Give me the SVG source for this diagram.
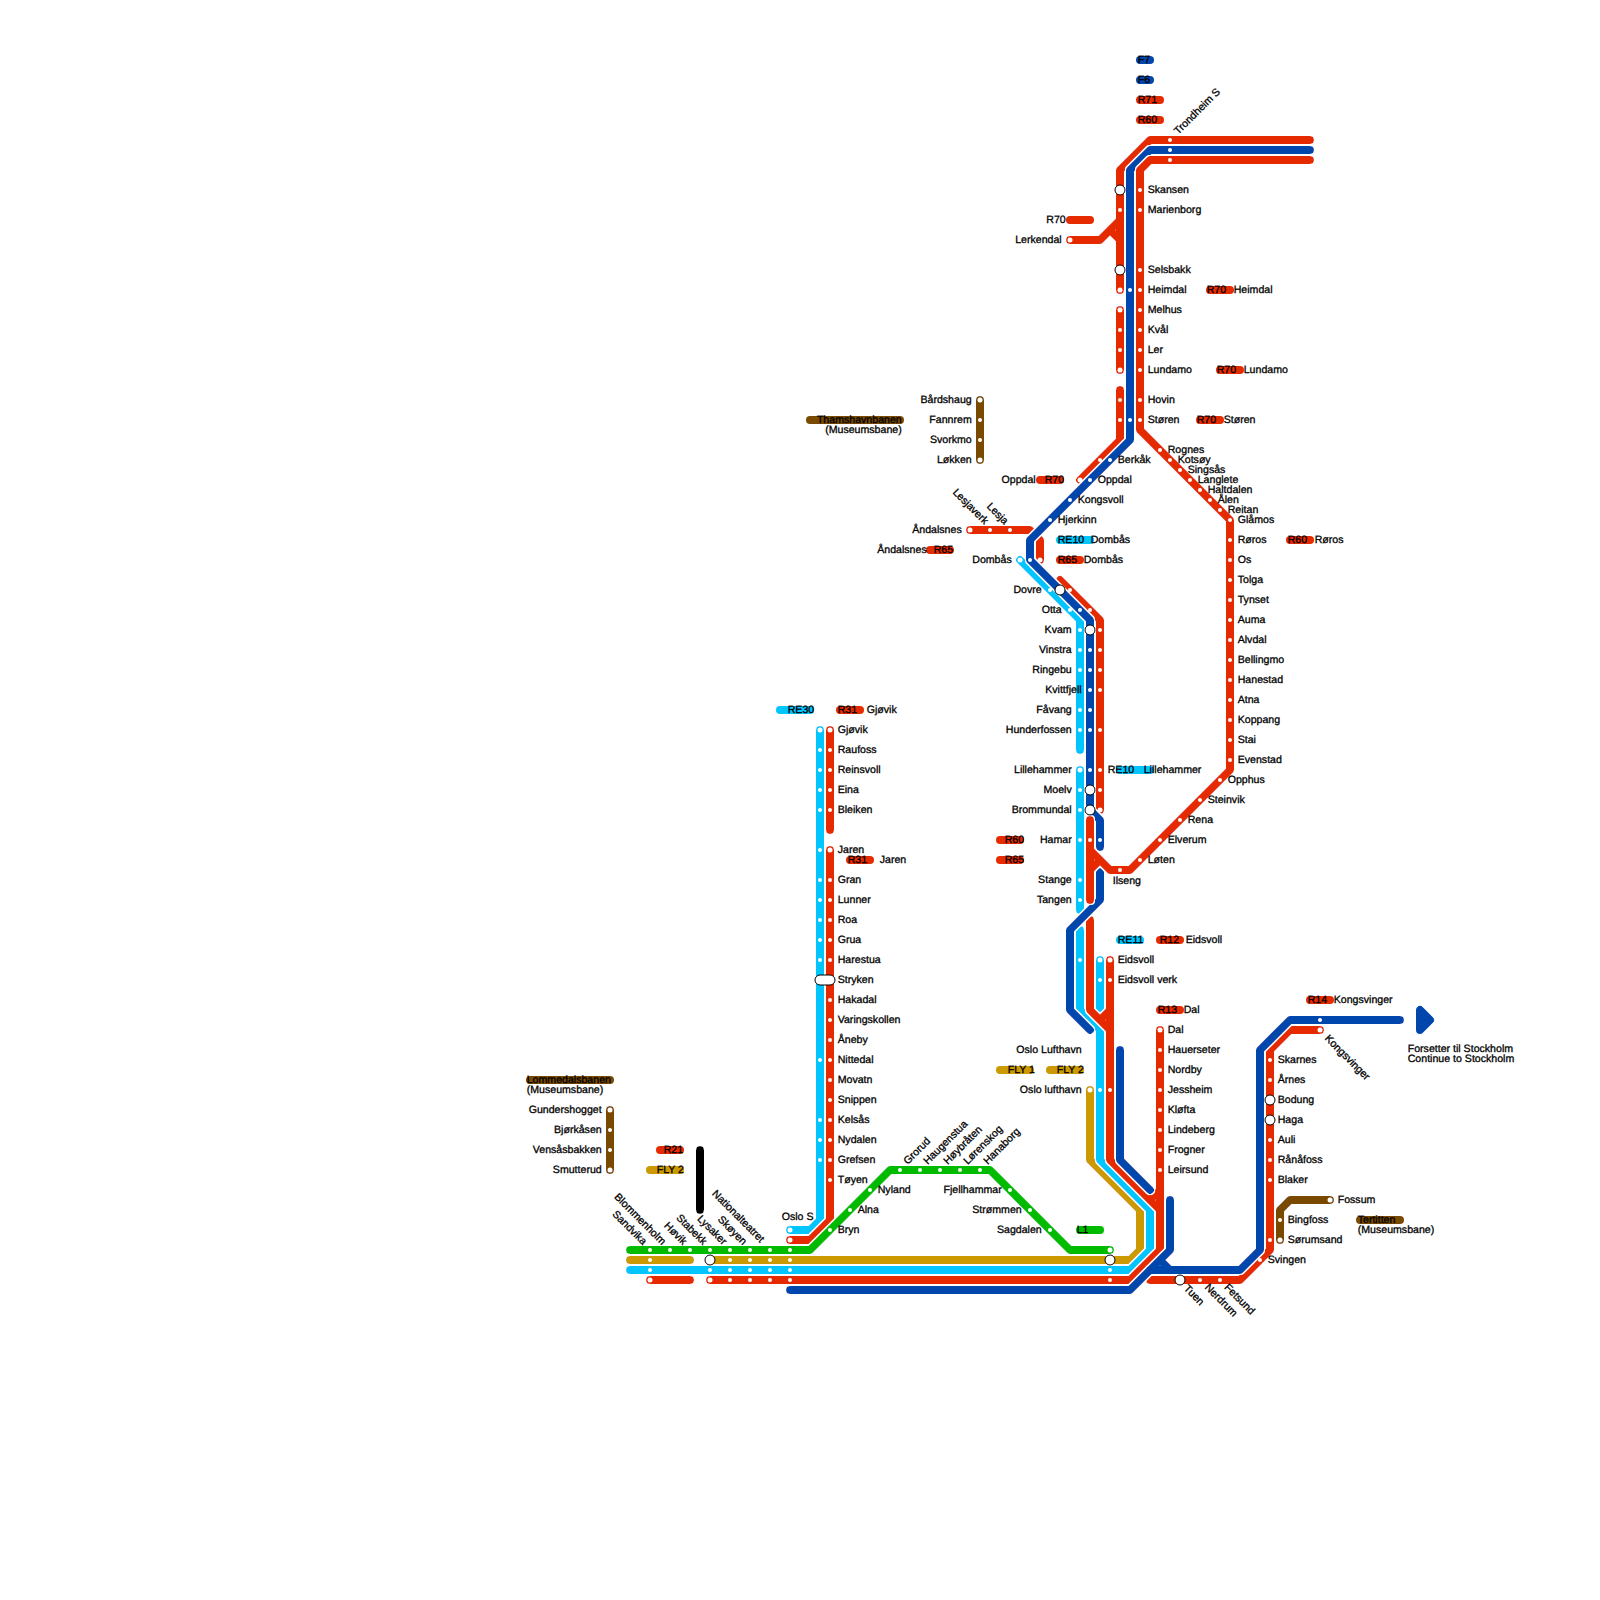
<svg xmlns="http://www.w3.org/2000/svg" width="1600" height="1600" viewBox="0 0 1600 1600">
<style>
text{font-family:"Liberation Sans",Arial,sans-serif;font-size:10.6px;fill:#000;stroke:#000;stroke-width:.3;translate:-.3px -1px;text-rendering:geometricPrecision}
.a{text-anchor:end}
.l{fill:none;stroke-width:8;stroke-linecap:round;stroke-linejoin:round;filter:url(#h)}
.p{fill:none;stroke-width:8;stroke-linecap:round}
.R{stroke:#e62b00}.B{stroke:#0046ad}.C{stroke:#00c5ff}.G{stroke:#00bb00}.Y{stroke:#cc9a00}.N{stroke:#7a4a00}.K{stroke:#000}
.d{r:2px;fill:#fff}.e{r:2.5px;fill:#fff}.i{r:5px;fill:#fff;stroke:#000;stroke-width:1}
</style>
<defs><filter id="h" filterUnits="userSpaceOnUse" x="0" y="0" width="1600" height="1600"><feMorphology in="SourceAlpha" operator="dilate" radius="0.8" result="m"/><feFlood flood-color="#fff"/><feComposite in2="m" operator="in"/><feMerge><feMergeNode/><feMergeNode in="SourceGraphic"/></feMerge></filter></defs>
<rect width="1600" height="1600" fill="#fff"/>
<g id="connectors">
<path class="l N" d="M980 400V460"/>
<path class="l N" d="M610 1110V1170"/>
<path class="l N" d="M1330 1200H1290L1280 1210V1240"/>
<path class="l K" d="M700 1150V1210"/>
<path class="l Y" d="M1090 1090V1160L1140 1210V1250L1130 1260H710"/>
<path class="l Y" d="M630 1260H690"/>
<path class="l C" d="M1020 560L1080 620V750"/>
<path class="l C" d="M1080 770V910"/>
<path class="l C" d="M1080 930V1010L1100 1030V1160L1150 1210V1250L1130 1270H630M1100 960V1020"/>
<path class="l C" d="M790 1230H810L820 1220V730"/>
<path class="l R" d="M970 530H1030L1040 540V560"/>
<path class="l R" d="M1070 240H1100L1120 220M1110 230L1120 240M1120 290V170L1150 140H1310"/>
<path class="l R" d="M1120 310V370"/>
<path class="l R" d="M1120 390V440L1080 480"/>
<path class="l R" d="M1060 580L1100 620V810"/>
<path class="l R" d="M1090 920V1010L1110 1030M1100 1020L1110 1010M1110 960V1160L1160 1210V1250L1130 1280H710M1160 1030V1250M1150 1200L1160 1190"/>
<path class="l R" d="M650 1280H690"/>
<path class="l R" d="M1150 1280H1240L1270 1250V1050L1290 1030H1320"/>
<path class="l R" d="M830 730V830"/>
<path class="l R" d="M790 1240H810L830 1220V850"/>
<path class="l G" d="M630 1250H810L890 1170H990L1070 1250H1110"/>
<path class="l B" d="M1310 150H1150L1130 170V440L1030 540V560L1090 620V810L1100 820V847"/>
<path class="l B" d="M1100 872V900L1070 930V1010L1090 1030"/>
<path class="l B" d="M1120 1050V1160L1150 1190"/>
<path class="l R" d="M1310 160H1150L1140 170V430L1230 520V770L1130 870H1110L1090 850M1090 820V900M1090 870L1100 860"/>
<path class="l B" d="M790 1290H1130L1170 1250V1200M1150 1270H1240L1260 1250V1050L1290 1020H1400M1160 1260L1170 1270"/>
<polygon points="1420,1010 1420,1030 1430,1020" fill="#0046ad" stroke="#0046ad" stroke-width="8" stroke-linejoin="round"/>
</g>
<g id="legend-f7"><path class="p B" d="M1140 60H1150"/><text x="1138" y="63.5">F7</text></g>
<g id="legend-f6"><path class="p B" d="M1140 80H1150"/><text x="1138" y="83.5">F6</text></g>
<g id="legend-r71"><path class="p R" d="M1140 100H1160"/><text x="1138" y="103.5">R71</text></g>
<g id="legend-r60"><path class="p R" d="M1140 120H1160"/><text x="1138" y="123.5">R60</text></g>
<g id="legend-r70-a"><path class="p R" d="M1070 220H1090"/><text class="a" x="1066" y="223.5">R70</text></g>
<g id="legend-r70-heimdal"><path class="p R" d="M1210 290H1230"/><text x="1207" y="293.5">R70</text><text x="1234" y="293.5">Heimdal</text></g>
<g id="legend-r70-lundamo"><path class="p R" d="M1220 370H1240"/><text x="1217" y="373.5">R70</text><text x="1244" y="373.5">Lundamo</text></g>
<g id="legend-r70-storen"><path class="p R" d="M1200 420H1220"/><text x="1197" y="423.5">R70</text><text x="1224" y="423.5">Støren</text></g>
<g id="legend-r70-oppdal"><path class="p R" d="M1040 480H1060"/><text class="a" x="1036" y="483.5">Oppdal</text><text x="1045" y="483.5">R70</text></g>
<g id="legend-re10-dombas"><path class="p C" d="M1060 540H1090"/><text x="1058" y="543.5">RE10</text><text x="1091" y="543.5">Dombås</text></g>
<g id="legend-r65-dombas"><path class="p R" d="M1060 560H1080"/><text x="1058" y="563.5">R65</text><text x="1084" y="563.5">Dombås</text></g>
<g id="legend-r65-andalsnes"><path class="p R" d="M930 550H950"/><text class="a" x="927" y="553.5">Åndalsnes</text><text x="934" y="553.5">R65</text></g>
<g id="legend-r60-roros"><path class="p R" d="M1290 540H1310"/><text x="1288" y="543.5">R60</text><text x="1315" y="543.5">Røros</text></g>
<g id="legend-re10-lillehammer"><path class="p C" d="M1120 770H1150"/><text x="1108" y="773.5">RE10</text><text x="1144" y="773.5">Lillehammer</text></g>
<g id="legend-r60-b"><path class="p R" d="M1000 840H1020"/><text x="1005" y="843.5">R60</text></g>
<g id="legend-r65-b"><path class="p R" d="M1000 860H1020"/><text x="1005" y="863.5">R65</text></g>
<g id="legend-re11"><path class="p C" d="M1120 940H1140"/><text x="1118" y="943.5">RE11</text></g>
<g id="legend-r12"><path class="p R" d="M1160 940H1180"/><text x="1160" y="943.5">R12</text><text x="1186" y="943.5">Eidsvoll</text></g>
<g id="legend-r13"><path class="p R" d="M1160 1010H1180"/><text x="1158" y="1013.5">R13</text><text x="1184" y="1013.5">Dal</text></g>
<g id="legend-r14"><path class="p R" d="M1310 1000H1330"/><text x="1308" y="1003.5">R14</text><text x="1334" y="1003.5">Kongsvinger</text></g>
<g id="legend-fly1"><path class="p Y" d="M1000 1070H1030"/><text x="1008" y="1073.5">FLY 1</text></g>
<g id="legend-fly2-a"><path class="p Y" d="M1050 1070H1080"/><text x="1057" y="1073.5">FLY 2</text></g>
<g id="legend-l1"><path class="p G" d="M1080 1230H1100"/><text x="1077" y="1233.5">L1</text></g>
<g id="legend-r21"><path class="p R" d="M660 1150H680"/><text x="664" y="1153.5">R21</text></g>
<g id="legend-fly2-b"><path class="p Y" d="M650 1170H680"/><text x="657" y="1173.5">FLY 2</text></g>
<g id="legend-re30"><path class="p C" d="M780 710H810"/><text x="788" y="713.5">RE30</text></g>
<g id="legend-r31-gjovik"><path class="p R" d="M840 710H860"/><text x="838" y="713.5">R31</text><text x="867" y="713.5">Gjøvik</text></g>
<g id="legend-r31-jaren"><path class="p R" d="M850 860H870"/><text x="848" y="863.5">R31</text><text x="880" y="863.5">Jaren</text></g>
<g id="legend-thamshavn"><path class="p N" d="M810 420H900"/><text class="a" x="902" y="423.5">Thamshavnbanen</text><text class="a" x="902" y="433.5">(Museumsbane)</text></g>
<g id="legend-lommedal"><path class="p N" d="M530 1080H610"/><text x="527" y="1083.5">Lommedalsbanen</text><text x="527" y="1093.5">(Museumsbane)</text></g>
<g id="legend-tertitten"><path class="p N" d="M1360 1220H1400"/><text x="1358" y="1223.5">Tertitten</text><text x="1358" y="1233.5">(Museumsbane)</text></g>
<g id="legend-stockholm"><text x="1408" y="1053">Forsetter til Stockholm</text><text x="1408" y="1063">Continue to Stockholm</text></g>
<g id="n-trondheim"><circle class="d" cx="1170" cy="140"/><circle class="d" cx="1170" cy="150"/><circle class="d" cx="1170" cy="160"/><text x="1178.5" y="136" transform="rotate(-45 1178.5 136)">Trondheim S</text></g>
<g id="n-skansen"><circle class="i" cx="1120" cy="190"/><circle class="d" cx="1140" cy="190"/><text x="1148" y="193.5">Skansen</text></g>
<g id="n-marienborg"><circle class="d" cx="1120" cy="210"/><circle class="d" cx="1140" cy="210"/><text x="1148" y="213.5">Marienborg</text></g>
<g id="n-lerkendal"><circle class="e" cx="1070" cy="240"/><text class="a" x="1062" y="243.5">Lerkendal</text></g>
<g id="n-selsbakk"><circle class="i" cx="1120" cy="270"/><circle class="d" cx="1140" cy="270"/><text x="1148" y="273.5">Selsbakk</text></g>
<g id="n-heimdal"><circle class="e" cx="1120" cy="290"/><circle class="d" cx="1130" cy="290"/><circle class="d" cx="1140" cy="290"/><text x="1148" y="293.5">Heimdal</text></g>
<g id="n-melhus"><circle class="e" cx="1120" cy="310"/><circle class="d" cx="1140" cy="310"/><text x="1148" y="313.5">Melhus</text></g>
<g id="n-kval"><circle class="d" cx="1120" cy="330"/><circle class="d" cx="1140" cy="330"/><text x="1148" y="333.5">Kvål</text></g>
<g id="n-ler"><circle class="d" cx="1120" cy="350"/><circle class="d" cx="1140" cy="350"/><text x="1148" y="353.5">Ler</text></g>
<g id="n-lundamo"><circle class="e" cx="1120" cy="370"/><circle class="d" cx="1140" cy="370"/><text x="1148" y="373.5">Lundamo</text></g>
<g id="n-hovin"><circle class="d" cx="1120" cy="400"/><circle class="d" cx="1140" cy="400"/><text x="1148" y="403.5">Hovin</text></g>
<g id="n-storen"><circle class="d" cx="1120" cy="420"/><circle class="d" cx="1130" cy="420"/><circle class="d" cx="1140" cy="420"/><text x="1148" y="423.5">Støren</text></g>
<g id="n-rognes"><circle class="d" cx="1160" cy="450"/><text x="1168" y="453.5">Rognes</text></g>
<g id="n-kotsoy"><circle class="d" cx="1170" cy="460"/><text x="1178" y="463.5">Kotsøy</text></g>
<g id="n-singsas"><circle class="d" cx="1180" cy="470"/><text x="1188" y="473.5">Singsås</text></g>
<g id="n-langlete"><circle class="d" cx="1190" cy="480"/><text x="1198" y="483.5">Langlete</text></g>
<g id="n-haltdalen"><circle class="d" cx="1200" cy="490"/><text x="1208" y="493.5">Haltdalen</text></g>
<g id="n-alen"><circle class="d" cx="1210" cy="500"/><text x="1218" y="503.5">Ålen</text></g>
<g id="n-reitan"><circle class="d" cx="1220" cy="510"/><text x="1228" y="513.5">Reitan</text></g>
<g id="n-glamos"><circle class="d" cx="1230" cy="520"/><text x="1238" y="523.5">Glåmos</text></g>
<g id="n-roros"><circle class="d" cx="1230" cy="540"/><text x="1238" y="543.5">Røros</text></g>
<g id="n-os"><circle class="d" cx="1230" cy="560"/><text x="1238" y="563.5">Os</text></g>
<g id="n-tolga"><circle class="d" cx="1230" cy="580"/><text x="1238" y="583.5">Tolga</text></g>
<g id="n-tynset"><circle class="d" cx="1230" cy="600"/><text x="1238" y="603.5">Tynset</text></g>
<g id="n-auma"><circle class="d" cx="1230" cy="620"/><text x="1238" y="623.5">Auma</text></g>
<g id="n-alvdal"><circle class="d" cx="1230" cy="640"/><text x="1238" y="643.5">Alvdal</text></g>
<g id="n-bellingmo"><circle class="d" cx="1230" cy="660"/><text x="1238" y="663.5">Bellingmo</text></g>
<g id="n-hanestad"><circle class="d" cx="1230" cy="680"/><text x="1238" y="683.5">Hanestad</text></g>
<g id="n-atna"><circle class="d" cx="1230" cy="700"/><text x="1238" y="703.5">Atna</text></g>
<g id="n-koppang"><circle class="d" cx="1230" cy="720"/><text x="1238" y="723.5">Koppang</text></g>
<g id="n-stai"><circle class="d" cx="1230" cy="740"/><text x="1238" y="743.5">Stai</text></g>
<g id="n-evenstad"><circle class="d" cx="1230" cy="760"/><text x="1238" y="763.5">Evenstad</text></g>
<g id="n-opphus"><circle class="d" cx="1220" cy="780"/><text x="1228" y="783.5">Opphus</text></g>
<g id="n-steinvik"><circle class="d" cx="1200" cy="800"/><text x="1208" y="803.5">Steinvik</text></g>
<g id="n-rena"><circle class="d" cx="1180" cy="820"/><text x="1188" y="823.5">Rena</text></g>
<g id="n-elverum"><circle class="d" cx="1160" cy="840"/><text x="1168" y="843.5">Elverum</text></g>
<g id="n-loten"><circle class="d" cx="1140" cy="860"/><text x="1148" y="863.5">Løten</text></g>
<g id="n-ilseng"><circle class="d" cx="1120" cy="870"/><text x="1113" y="885">Ilseng</text></g>
<g id="n-berkak"><circle class="d" cx="1100" cy="460"/><circle class="d" cx="1110" cy="460"/><text x="1118" y="463.5">Berkåk</text></g>
<g id="n-oppdal"><circle class="e" cx="1080" cy="480"/><circle class="d" cx="1090" cy="480"/><text x="1098" y="483.5">Oppdal</text></g>
<g id="n-kongsvoll"><circle class="d" cx="1070" cy="500"/><text x="1078" y="503.5">Kongsvoll</text></g>
<g id="n-hjerkinn"><circle class="d" cx="1050" cy="520"/><text x="1058" y="523.5">Hjerkinn</text></g>
<g id="n-andalsnes"><circle class="e" cx="970" cy="530"/><text class="a" x="962" y="533.5">Åndalsnes</text></g>
<g id="n-lesjaverk"><circle class="d" cx="990" cy="530"/><text class="a" x="984.5" y="526" transform="rotate(45 984.5 526)">Lesjaverk</text></g>
<g id="n-lesja"><circle class="d" cx="1010" cy="530"/><text class="a" x="1004.5" y="526" transform="rotate(45 1004.5 526)">Lesja</text></g>
<g id="n-dombas"><circle class="e" cx="1020" cy="560"/><circle class="d" cx="1030" cy="560"/><circle class="e" cx="1040" cy="560"/><text class="a" x="1012" y="563.5">Dombås</text></g>
<g id="n-dovre"><circle class="d" cx="1050" cy="590"/><circle class="i" cx="1060" cy="590"/><circle class="d" cx="1070" cy="590"/><text class="a" x="1042" y="593.5">Dovre</text></g>
<g id="n-otta"><circle class="d" cx="1070" cy="610"/><circle class="d" cx="1080" cy="610"/><circle class="d" cx="1090" cy="610"/><text class="a" x="1062" y="613.5">Otta</text></g>
<g id="n-kvam"><circle class="d" cx="1080" cy="630"/><circle class="i" cx="1090" cy="630"/><circle class="d" cx="1100" cy="630"/><text class="a" x="1072" y="633.5">Kvam</text></g>
<g id="n-vinstra"><circle class="d" cx="1080" cy="650"/><circle class="d" cx="1090" cy="650"/><circle class="d" cx="1100" cy="650"/><text class="a" x="1072" y="653.5">Vinstra</text></g>
<g id="n-ringebu"><circle class="d" cx="1080" cy="670"/><circle class="d" cx="1090" cy="670"/><circle class="d" cx="1100" cy="670"/><text class="a" x="1072" y="673.5">Ringebu</text></g>
<g id="n-kvittfjell"><circle class="d" cx="1090" cy="690"/><circle class="d" cx="1100" cy="690"/><text class="a" x="1082" y="693.5">Kvittfjell</text></g>
<g id="n-favang"><circle class="d" cx="1080" cy="710"/><circle class="d" cx="1090" cy="710"/><text class="a" x="1072" y="713.5">Fåvang</text></g>
<g id="n-hunderfossen"><circle class="d" cx="1080" cy="730"/><circle class="d" cx="1090" cy="730"/><circle class="d" cx="1100" cy="730"/><text class="a" x="1072" y="733.5">Hunderfossen</text></g>
<g id="n-lillehammer"><circle class="e" cx="1080" cy="770"/><circle class="d" cx="1090" cy="770"/><circle class="d" cx="1100" cy="770"/><text class="a" x="1072" y="773.5">Lillehammer</text></g>
<g id="n-moelv"><circle class="d" cx="1080" cy="790"/><circle class="i" cx="1090" cy="790"/><circle class="d" cx="1100" cy="790"/><text class="a" x="1072" y="793.5">Moelv</text></g>
<g id="n-brommundal"><circle class="d" cx="1080" cy="810"/><circle class="i" cx="1090" cy="810"/><circle class="e" cx="1100" cy="810"/><text class="a" x="1072" y="813.5">Brommundal</text></g>
<g id="n-hamar"><circle class="d" cx="1080" cy="840"/><circle class="d" cx="1090" cy="840"/><circle class="d" cx="1100" cy="840"/><text class="a" x="1072" y="843.5">Hamar</text></g>
<g id="n-stange"><circle class="d" cx="1080" cy="880"/><text class="a" x="1072" y="883.5">Stange</text></g>
<g id="n-tangen"><circle class="d" cx="1080" cy="900"/><text class="a" x="1072" y="903.5">Tangen</text></g>
<g id="n-eidsvoll"><circle class="d" cx="1080" cy="960"/><circle class="e" cx="1100" cy="960"/><circle class="e" cx="1110" cy="960"/><text x="1118" y="963.5">Eidsvoll</text></g>
<g id="n-eidsvoll-verk"><circle class="d" cx="1100" cy="980"/><circle class="d" cx="1110" cy="980"/><text x="1118" y="983.5">Eidsvoll verk</text></g>
<g id="n-oslo-lufthavn-label"><text class="a" x="1082" y="1053.5">Oslo Lufthavn</text></g>
<g id="n-oslo-lufthavn"><circle class="e" cx="1090" cy="1090"/><circle class="d" cx="1100" cy="1090"/><circle class="d" cx="1110" cy="1090"/><text class="a" x="1082" y="1093.5">Oslo lufthavn</text></g>
<g id="n-dal"><circle class="e" cx="1160" cy="1030"/><text x="1168" y="1033.5">Dal</text></g>
<g id="n-hauerseter"><circle class="d" cx="1160" cy="1050"/><text x="1168" y="1053.5">Hauerseter</text></g>
<g id="n-nordby"><circle class="d" cx="1160" cy="1070"/><text x="1168" y="1073.5">Nordby</text></g>
<g id="n-jessheim"><circle class="d" cx="1160" cy="1090"/><text x="1168" y="1093.5">Jessheim</text></g>
<g id="n-klofta"><circle class="d" cx="1160" cy="1110"/><text x="1168" y="1113.5">Kløfta</text></g>
<g id="n-lindeberg"><circle class="d" cx="1160" cy="1130"/><text x="1168" y="1133.5">Lindeberg</text></g>
<g id="n-frogner"><circle class="d" cx="1160" cy="1150"/><text x="1168" y="1153.5">Frogner</text></g>
<g id="n-leirsund"><circle class="d" cx="1160" cy="1170"/><text x="1168" y="1173.5">Leirsund</text></g>
<g id="n-x1110"><circle class="e" cx="1110" cy="1250"/><circle class="i" cx="1110" cy="1260"/><circle class="d" cx="1110" cy="1270"/><circle class="d" cx="1110" cy="1280"/></g>
<g id="n-tuen"><circle class="i" cx="1180" cy="1280"/><text x="1183.5" y="1290" transform="rotate(45 1183.5 1290)">Tuen</text></g>
<g id="n-nerdrum"><circle class="d" cx="1200" cy="1280"/><text x="1204.5" y="1289" transform="rotate(45 1204.5 1289)">Nerdrum</text></g>
<g id="n-fetsund"><circle class="d" cx="1220" cy="1280"/><text x="1224" y="1289" transform="rotate(45 1224 1289)">Fetsund</text></g>
<g id="n-svingen"><circle class="d" cx="1260" cy="1260"/><text x="1268" y="1263.5">Svingen</text></g>
<g id="n-sorumsand"><circle class="d" cx="1270" cy="1240"/><circle class="e" cx="1280" cy="1240"/><text x="1288" y="1243.5">Sørumsand</text></g>
<g id="n-bingfoss"><circle class="d" cx="1280" cy="1220"/><text x="1288" y="1223.5">Bingfoss</text></g>
<g id="n-fossum"><circle class="e" cx="1330" cy="1200"/><text x="1338" y="1203.5">Fossum</text></g>
<g id="n-blaker"><circle class="d" cx="1270" cy="1180"/><text x="1278" y="1183.5">Blaker</text></g>
<g id="n-ranafoss"><circle class="d" cx="1270" cy="1160"/><text x="1278" y="1163.5">Rånåfoss</text></g>
<g id="n-auli"><circle class="d" cx="1270" cy="1140"/><text x="1278" y="1143.5">Auli</text></g>
<g id="n-haga"><circle class="i" cx="1270" cy="1120"/><text x="1278" y="1123.5">Haga</text></g>
<g id="n-bodung"><circle class="i" cx="1270" cy="1100"/><text x="1278" y="1103.5">Bodung</text></g>
<g id="n-arnes"><circle class="d" cx="1270" cy="1080"/><text x="1278" y="1083.5">Årnes</text></g>
<g id="n-skarnes"><circle class="d" cx="1270" cy="1060"/><text x="1278" y="1063.5">Skarnes</text></g>
<g id="n-kongsvinger"><circle class="d" cx="1320" cy="1020"/><circle class="e" cx="1320" cy="1030"/><text x="1324.5" y="1040" transform="rotate(45 1324.5 1040)">Kongsvinger</text></g>
<g id="n-bardshaug"><circle class="e" cx="980" cy="400"/><text class="a" x="972" y="403.5">Bårdshaug</text></g>
<g id="n-fannrem"><circle class="d" cx="980" cy="420"/><text class="a" x="972" y="423.5">Fannrem</text></g>
<g id="n-svorkmo"><circle class="d" cx="980" cy="440"/><text class="a" x="972" y="443.5">Svorkmo</text></g>
<g id="n-lokken"><circle class="e" cx="980" cy="460"/><text class="a" x="972" y="463.5">Løkken</text></g>
<g id="n-gundershogget"><circle class="e" cx="610" cy="1110"/><text class="a" x="602" y="1113.5">Gundershogget</text></g>
<g id="n-bjorkasen"><circle class="d" cx="610" cy="1130"/><text class="a" x="602" y="1133.5">Bjørkåsen</text></g>
<g id="n-vensasbakken"><circle class="d" cx="610" cy="1150"/><text class="a" x="602" y="1153.5">Vensåsbakken</text></g>
<g id="n-smutterud"><circle class="e" cx="610" cy="1170"/><text class="a" x="602" y="1173.5">Smutterud</text></g>
<g id="n-gjovik"><circle class="e" cx="820" cy="730"/><circle class="e" cx="830" cy="730"/><text x="838" y="733.5">Gjøvik</text></g>
<g id="n-raufoss"><circle class="d" cx="820" cy="750"/><circle class="d" cx="830" cy="750"/><text x="838" y="753.5">Raufoss</text></g>
<g id="n-reinsvoll"><circle class="d" cx="820" cy="770"/><circle class="d" cx="830" cy="770"/><text x="838" y="773.5">Reinsvoll</text></g>
<g id="n-eina"><circle class="d" cx="820" cy="790"/><circle class="d" cx="830" cy="790"/><text x="838" y="793.5">Eina</text></g>
<g id="n-bleiken"><circle class="d" cx="820" cy="810"/><circle class="d" cx="830" cy="810"/><text x="838" y="813.5">Bleiken</text></g>
<g id="n-jaren"><circle class="d" cx="820" cy="850"/><circle class="e" cx="830" cy="850"/><text x="838" y="853.5">Jaren</text></g>
<g id="n-gran"><circle class="d" cx="820" cy="880"/><circle class="d" cx="830" cy="880"/><text x="838" y="883.5">Gran</text></g>
<g id="n-lunner"><circle class="d" cx="820" cy="900"/><circle class="d" cx="830" cy="900"/><text x="838" y="903.5">Lunner</text></g>
<g id="n-roa"><circle class="d" cx="820" cy="920"/><circle class="d" cx="830" cy="920"/><text x="838" y="923.5">Roa</text></g>
<g id="n-grua"><circle class="d" cx="820" cy="940"/><circle class="d" cx="830" cy="940"/><text x="838" y="943.5">Grua</text></g>
<g id="n-harestua"><circle class="d" cx="820" cy="960"/><circle class="d" cx="830" cy="960"/><text x="838" y="963.5">Harestua</text></g>
<g id="n-stryken"><rect x="815" y="975" width="20" height="10" rx="5" fill="#fff" stroke="#000"/><text x="838" y="983.5">Stryken</text></g>
<g id="n-hakadal"><circle class="d" cx="830" cy="1000"/><text x="838" y="1003.5">Hakadal</text></g>
<g id="n-varingskollen"><circle class="d" cx="830" cy="1020"/><text x="838" y="1023.5">Varingskollen</text></g>
<g id="n-aneby"><circle class="d" cx="830" cy="1040"/><text x="838" y="1043.5">Åneby</text></g>
<g id="n-nittedal"><circle class="d" cx="820" cy="1060"/><circle class="d" cx="830" cy="1060"/><text x="838" y="1063.5">Nittedal</text></g>
<g id="n-movatn"><circle class="d" cx="830" cy="1080"/><text x="838" y="1083.5">Movatn</text></g>
<g id="n-snippen"><circle class="d" cx="830" cy="1100"/><text x="838" y="1103.5">Snippen</text></g>
<g id="n-kelsas"><circle class="d" cx="820" cy="1120"/><circle class="d" cx="830" cy="1120"/><text x="838" y="1123.5">Kelsås</text></g>
<g id="n-nydalen"><circle class="d" cx="820" cy="1140"/><circle class="d" cx="830" cy="1140"/><text x="838" y="1143.5">Nydalen</text></g>
<g id="n-grefsen"><circle class="d" cx="820" cy="1160"/><circle class="d" cx="830" cy="1160"/><text x="838" y="1163.5">Grefsen</text></g>
<g id="n-toyen"><circle class="d" cx="830" cy="1180"/><text x="838" y="1183.5">Tøyen</text></g>
<g id="n-bryn"><circle class="d" cx="830" cy="1230"/><text x="838" y="1233.5">Bryn</text></g>
<g id="n-alna"><circle class="d" cx="850" cy="1210"/><text x="858" y="1213.5">Alna</text></g>
<g id="n-nyland"><circle class="d" cx="870" cy="1190"/><text x="878" y="1193.5">Nyland</text></g>
<g id="n-grorud"><circle class="d" cx="900" cy="1170"/><text x="908" y="1166" transform="rotate(-45 908 1166)">Grorud</text></g>
<g id="n-haugenstua"><circle class="d" cx="920" cy="1170"/><text x="928" y="1166" transform="rotate(-45 928 1166)">Haugenstua</text></g>
<g id="n-hoybraten"><circle class="d" cx="940" cy="1170"/><text x="948" y="1166" transform="rotate(-45 948 1166)">Høybråten</text></g>
<g id="n-lorenskog"><circle class="d" cx="960" cy="1170"/><text x="968" y="1166" transform="rotate(-45 968 1166)">Lørenskog</text></g>
<g id="n-hanaborg"><circle class="d" cx="980" cy="1170"/><text x="988" y="1166" transform="rotate(-45 988 1166)">Hanaborg</text></g>
<g id="n-fjellhammar"><circle class="d" cx="1010" cy="1190"/><text class="a" x="1002" y="1193.5">Fjellhammar</text></g>
<g id="n-strommen"><circle class="d" cx="1030" cy="1210"/><text class="a" x="1022" y="1213.5">Strømmen</text></g>
<g id="n-sagdalen"><circle class="d" cx="1050" cy="1230"/><text class="a" x="1042" y="1233.5">Sagdalen</text></g>
<g id="n-oslo-s"><circle class="e" cx="790" cy="1230"/><circle class="e" cx="790" cy="1240"/><circle class="d" cx="790" cy="1250"/><circle class="d" cx="790" cy="1260"/><circle class="d" cx="790" cy="1270"/><circle class="d" cx="790" cy="1280"/><text x="782" y="1221">Oslo S</text></g>
<g id="n-nationalteatret"><circle class="d" cx="770" cy="1250"/><circle class="d" cx="770" cy="1260"/><circle class="d" cx="770" cy="1270"/><circle class="d" cx="770" cy="1280"/><text class="a" x="760.5" y="1244" transform="rotate(45 760.5 1244)">Nationalteatret</text></g>
<g id="n-skoyen"><circle class="d" cx="750" cy="1250"/><circle class="d" cx="750" cy="1260"/><circle class="d" cx="750" cy="1270"/><circle class="d" cx="750" cy="1280"/><text class="a" x="743" y="1246.5" transform="rotate(45 743 1246.5)">Skøyen</text></g>
<g id="n-lysaker"><circle class="d" cx="730" cy="1250"/><circle class="d" cx="730" cy="1260"/><circle class="d" cx="730" cy="1270"/><circle class="d" cx="730" cy="1280"/><text class="a" x="723" y="1246.5" transform="rotate(45 723 1246.5)">Lysaker</text></g>
<g id="n-stabekk"><circle class="d" cx="710" cy="1250"/><circle class="i" cx="710" cy="1260"/><circle class="d" cx="710" cy="1270"/><circle class="e" cx="710" cy="1280"/><text class="a" x="703" y="1246.5" transform="rotate(45 703 1246.5)">Stabekk</text></g>
<g id="n-hovik"><circle class="d" cx="690" cy="1250"/><text class="a" x="683" y="1246.5" transform="rotate(45 683 1246.5)">Høvik</text></g>
<g id="n-blommenholm"><circle class="d" cx="670" cy="1250"/><text class="a" x="662" y="1246.5" transform="rotate(45 662 1246.5)">Blommenholm</text></g>
<g id="n-sandvika"><circle class="d" cx="650" cy="1250"/><circle class="d" cx="650" cy="1260"/><circle class="d" cx="650" cy="1270"/><circle class="e" cx="650" cy="1280"/><text class="a" x="643" y="1246.5" transform="rotate(45 643 1246.5)">Sandvika</text></g>
</svg>
